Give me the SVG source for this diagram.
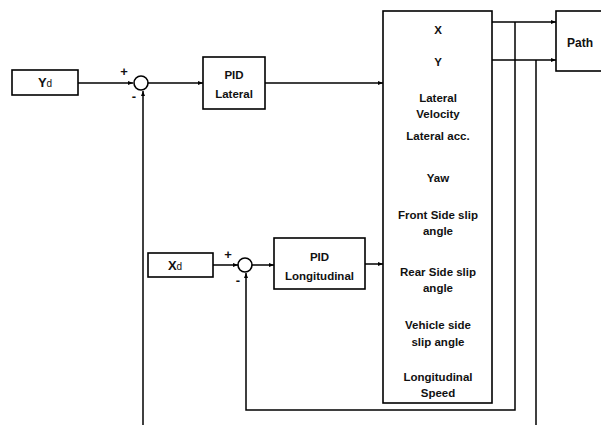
<svg xmlns="http://www.w3.org/2000/svg" width="601" height="425" viewBox="0 0 601 425">
<defs>
<marker id="ah" viewBox="0 0 10 10" refX="10" refY="5" markerWidth="5" markerHeight="5" orient="auto" markerUnits="userSpaceOnUse"><path d="M0,1 L10,5 L0,9 z" fill="#000"/></marker>
</defs>
<style>
.box{fill:#fff;stroke:#000;stroke-width:1.6}
.ln{fill:none;stroke:#000;stroke-width:1.5}
.t{font-family:"Liberation Sans",Arial,sans-serif;font-weight:bold;font-size:11.5px;text-anchor:middle;fill:#111}
.s{font-family:"Liberation Sans",Arial,sans-serif;font-weight:bold;font-size:13px;text-anchor:middle;fill:#111}
</style>
<rect width="601" height="425" fill="#fff"/>
<g id="connectors">
<path class="ln" d="M78,83 H133" marker-end="url(#ah)"/>
<path class="ln" d="M148,83 H203" marker-end="url(#ah)"/>
<path class="ln" d="M265,83 H383" marker-end="url(#ah)"/>
<path class="ln" d="M143,425 V91" marker-end="url(#ah)"/>
<path class="ln" d="M213,265 H238" marker-end="url(#ah)"/>
<path class="ln" d="M252,265 H274" marker-end="url(#ah)"/>
<path class="ln" d="M365,264 H383" marker-end="url(#ah)"/>
<path class="ln" d="M492,22 H556" marker-end="url(#ah)"/>
<path class="ln" d="M492,60 H556" marker-end="url(#ah)"/>
<path class="ln" d="M515,22 V410 H246 V273" marker-end="url(#ah)"/>
<path class="ln" d="M536,60 V425"/>
</g>
<g id="sum1"><circle cx="141" cy="83" r="7" class="box"/><text class="s" x="124" y="76">+</text><text class="s" x="134" y="101">-</text></g>
<g id="sum2"><circle cx="245" cy="265" r="7" class="box"/><text class="s" x="228" y="259">+</text><text class="s" x="238" y="285">-</text></g>
<g id="yd"><rect class="box" x="12" y="70" width="66" height="25"/><text class="s" x="45" y="87">Y<tspan font-size="10" font-weight="normal">d</tspan></text></g>
<g id="xd"><rect class="box" x="148" y="253" width="65" height="24"/><text class="s" x="175" y="270">X<tspan font-size="10" font-weight="normal">d</tspan></text></g>
<g id="pidlat"><rect class="box" x="203" y="57" width="62" height="52"/><text class="t" x="234" y="79">PID</text><text class="t" x="234" y="98">Lateral</text></g>
<g id="pidlon"><rect class="box" x="274" y="238" width="91" height="51"/><text class="t" x="319.5" y="261">PID</text><text class="t" x="319.5" y="280">Longitudinal</text></g>
<g id="vehicle"><rect class="box" x="383" y="11" width="109" height="392"/>
<text class="t" x="438" y="34">X</text>
<text class="t" x="438" y="66">Y</text>
<text class="t" x="438" y="102">Lateral</text>
<text class="t" x="438" y="118">Velocity</text>
<text class="t" x="438" y="140">Lateral acc.</text>
<text class="t" x="438" y="182">Yaw</text>
<text class="t" x="438" y="219">Front Side slip</text>
<text class="t" x="438" y="235">angle</text>
<text class="t" x="438" y="276">Rear Side slip</text>
<text class="t" x="438" y="292">angle</text>
<text class="t" x="438" y="329">Vehicle side</text>
<text class="t" x="438" y="346">slip angle</text>
<text class="t" x="438" y="381">Longitudinal</text>
<text class="t" x="438" y="397">Speed</text>
</g>
<g id="path"><rect class="box" x="556" y="11" width="50" height="60"/><text class="t" x="567" y="47" style="text-anchor:start;font-size:12px">Path</text></g>
</svg>
